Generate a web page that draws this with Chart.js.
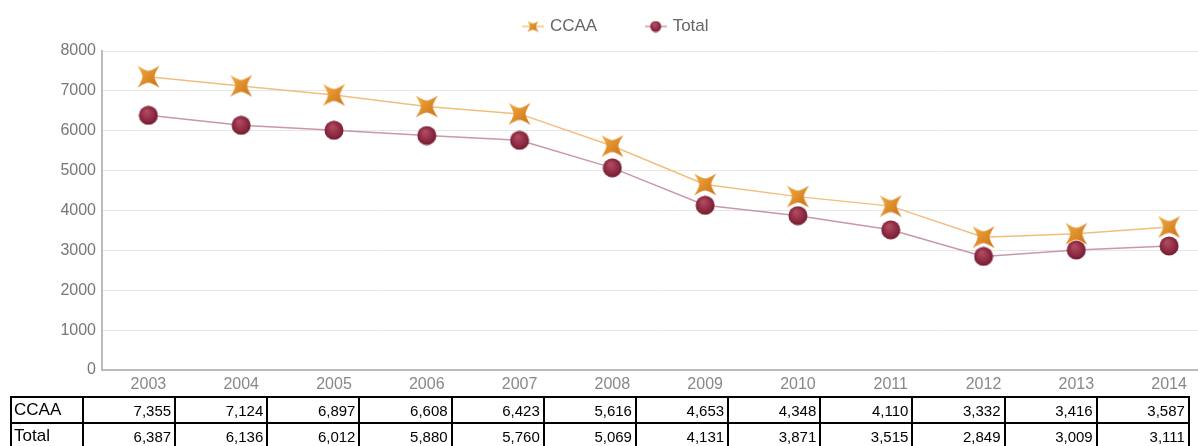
<!DOCTYPE html>
<html>
<head>
<meta charset="utf-8">
<script src="https://cdn.jsdelivr.net/npm/chart.js@4/dist/chart.umd.min.js"></script>
<style>
  html, body { margin: 0; padding: 0; background: #fff; overflow: hidden; }
  #chart { position: absolute; left: 0; top: 0; }
  #tbl { position: absolute; left: 10px; top: 396px; width: 1178px; table-layout: fixed;
         border-collapse: collapse;
         font-family: "Liberation Sans", Arial, sans-serif; font-size: 15px; color: #000; }
  #tbl td { border: 2px solid #000; height: 24px; padding: 0 3px; text-align: right;
            overflow: hidden; white-space: nowrap; }
  #tbl td.lbl { text-align: left; padding-left: 2px; font-size: 17px; }
</style>
</head>
<body>
<canvas id="chart" width="1227" height="397" style="width:1227px;height:397px"></canvas>
<table id="tbl"><colgroup id="cols"></colgroup></table>
<script>
const years = ['2003', '2004', '2005', '2006', '2007', '2008', '2009', '2010', '2011', '2012', '2013', '2014'];
const ccaa = [7355, 7124, 6897, 6608, 6423, 5616, 4653, 4348, 4110, 3332, 3416, 3587];
const total = [6387, 6136, 6012, 5880, 5760, 5069, 4131, 3871, 3515, 2849, 3009, 3111];
const yTicks = [0, 1000, 2000, 3000, 4000, 5000, 6000, 7000, 8000];

// marker images
function starMarker(size) {
  const c = document.createElement('canvas');
  c.width = size; c.height = size;
  const g = c.getContext('2d');
  const m = size / 2, r = size / 2 - 0.5, k = size * 0.26;
  const grad = g.createLinearGradient(0, 0, size, size);
  grad.addColorStop(0, '#f5ad45');
  grad.addColorStop(1, '#c86e10');
  g.beginPath();
  g.moveTo(m - r, m - r);
  g.quadraticCurveTo(m - k * 0.5, m - k, m, m - k);
  g.quadraticCurveTo(m + k * 0.5, m - k, m + r, m - r);
  g.quadraticCurveTo(m + k, m - k * 0.5, m + k, m);
  g.quadraticCurveTo(m + k, m + k * 0.5, m + r, m + r);
  g.quadraticCurveTo(m + k * 0.5, m + k, m, m + k);
  g.quadraticCurveTo(m - k * 0.5, m + k, m - r, m + r);
  g.quadraticCurveTo(m - k, m + k * 0.5, m - k, m);
  g.quadraticCurveTo(m - k, m - k * 0.5, m - r, m - r);
  g.closePath();
  g.fillStyle = grad;
  g.fill();
  return c;
}

function ballMarker(size) {
  const c = document.createElement('canvas');
  c.width = size; c.height = size;
  const g = c.getContext('2d');
  const m = size / 2;
  const grad = g.createRadialGradient(m * 0.8, m * 0.6, 1, m, m, m);
  grad.addColorStop(0, '#b04a60');
  grad.addColorStop(0.7, '#8a2840');
  grad.addColorStop(1, '#6e1a30');
  g.beginPath();
  g.arc(m, m, m - 0.5, 0, Math.PI * 2);
  g.fillStyle = grad;
  g.fill();
  return c;
}

function legendMarker(img, color) {
  const c = document.createElement('canvas');
  c.width = 22; c.height = 12;
  const g = c.getContext('2d');
  g.strokeStyle = color;
  g.lineWidth = 1.5;
  g.beginPath(); g.moveTo(0, 6); g.lineTo(22, 6); g.stroke();
  g.drawImage(img, 5, 0, 12, 12);
  return c;
}

const starImg = starMarker(23);
const ballImg = ballMarker(20);
const legStar = legendMarker(starMarker(13), '#f2c080');
const legBall = legendMarker(ballMarker(12), '#c898a8');

// give the legend a bit more room underneath and nudge it right
const legendTweak = {
  id: 'legendTweak',
  beforeInit(chart) {
    const fit = chart.legend.fit;
    chart.legend.fit = function () {
      fit.call(this);
      this.height += 5;
    };
  },
  afterLayout(chart) {
    chart.legend.left += 8;
    chart.legend.top -= 1;
  }
};

new Chart(document.getElementById('chart'), {
  type: 'line',
  data: {
    labels: years,
    datasets: [
      { label: 'CCAA', data: ccaa, borderColor: '#f2be7e', borderWidth: 1.5,
        pointStyle: starImg, pointRadius: 10, tension: 0 },
      { label: 'Total', data: total, borderColor: '#c898a8', borderWidth: 1.5,
        pointStyle: ballImg, pointRadius: 10, tension: 0 }
    ]
  },
  plugins: [legendTweak],
  options: {
    responsive: false,
    animation: false,
    layout: { padding: { top: -31, right: 2, bottom: 0, left: 0 } },
    plugins: {
      tooltip: { enabled: false },
      legend: {
        position: 'top',
        labels: {
          usePointStyle: true,
          color: '#666',
          font: { family: 'Liberation Sans', size: 17 },
          padding: 50,
          boxHeight: 12,
          generateLabels: function (chart) {
            return chart.data.datasets.map(function (ds, i) {
              return { text: ds.label, pointStyle: i === 0 ? legStar : legBall,
                       fontColor: '#666', datasetIndex: i, hidden: false, lineWidth: 0 };
            });
          }
        }
      }
    },
    scales: {
      x: {
        offset: true,
        grid: { display: false, drawTicks: false },
        border: { color: '#bbbbbb', width: 2 },
        afterFit: function (axis) { axis.height = 27; },
        ticks: { color: '#888', font: { family: 'Liberation Sans', size: 16 }, padding: 5 }
      },
      y: {
        min: 0, max: 8000,
        afterBuildTicks: function (axis) {
          axis.ticks = yTicks.map(function (v) { return { value: v }; });
        },
        afterFit: function (axis) { axis.width = 102; },
        grid: { color: '#e6e6e6', drawTicks: false },
        border: { color: '#bbbbbb', width: 2 },
        ticks: {
          color: '#777',
          font: { family: 'Liberation Sans', size: 16 },
          padding: 6,
          callback: function (v) { return String(v); }
        }
      }
    }
  }
});

// data table below the axis
const tbl = document.getElementById('tbl');
const cols = document.getElementById('cols');
[72].concat(years.map(function () { return 92.17; })).forEach(function (w) {
  const col = document.createElement('col');
  col.style.width = w + 'px';
  cols.appendChild(col);
});
[['CCAA', ccaa], ['Total', total]].forEach(function (row) {
  const tr = document.createElement('tr');
  const th = document.createElement('td');
  th.className = 'lbl';
  th.textContent = row[0];
  tr.appendChild(th);
  row[1].forEach(function (v) {
    const td = document.createElement('td');
    td.textContent = v.toLocaleString('en-US');
    tr.appendChild(td);
  });
  tbl.appendChild(tr);
});
</script>
</body>
</html>
